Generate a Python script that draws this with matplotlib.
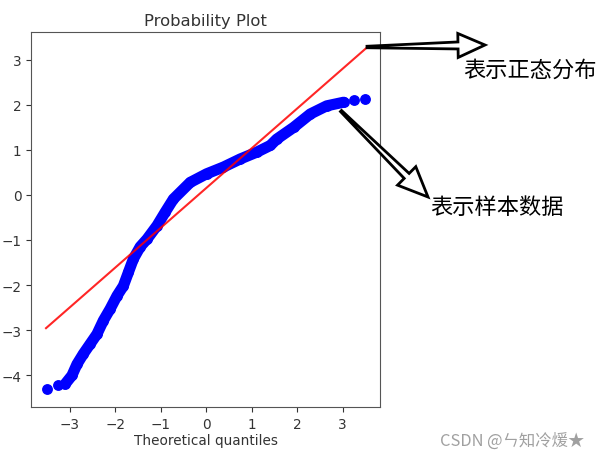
import matplotlib
matplotlib.use("Agg")
import matplotlib.pyplot as plt
from matplotlib.patches import Polygon
import numpy as np

# Data --------------------------------------------------------------------
# theoretical quantiles (x) and ordered sample values (y)
osm = [-3.49, -3.25, -3.10, -2.95, -2.84, -2.70, -2.55, -2.40, -2.26, -2.11,
       -1.96, -1.82, -1.71, -1.60, -1.45, -1.30, -1.08, -0.90, -0.72, -0.35,
       0.01, 0.38, 0.75, 1.11, 1.41, 1.55, 1.92, 2.29, 2.65, 3.02, 3.24, 3.49]
osr = [-4.31, -4.22, -4.20, -4.01, -3.76, -3.53, -3.31, -3.09, -2.79, -2.53,
       -2.24, -2.02, -1.72, -1.42, -1.15, -0.98, -0.68, -0.38, -0.09, 0.28,
       0.47, 0.62, 0.80, 0.95, 1.10, 1.24, 1.50, 1.80, 1.98, 2.06, 2.11, 2.13]
# least squares fit line (normal reference)
fit_slope = 0.884
fit_intercept = 0.153
line_x = [-3.52, 3.52]

x_ticks = [-3, -2, -1, 0, 1, 2, 3]
y_ticks = [-4, -3, -2, -1, 0, 1, 2, 3]

label_normal = "表示正态分布"
label_sample = "表示样本数据"
watermark = "CSDN @ㄣ知冷煖★"


def hollow_arrow(fig, tail, tip, head_len=27, head_w=24, shaft_w=7, tail_w=1.5):
    # outline arrow like the one drawn by hand, coordinates in figure pixels
    tail = np.array(tail, float)
    tip = np.array(tip, float)
    d = tip - tail
    d /= np.hypot(*d)
    n = np.array([-d[1], d[0]])
    base = tip - d * head_len
    pts = [tail + n * tail_w / 2, base + n * shaft_w / 2, base + n * head_w / 2,
           tip, base - n * head_w / 2, base - n * shaft_w / 2, tail - n * tail_w / 2]
    pts = [(p[0] / fig.bbox.width, p[1] / fig.bbox.height) for p in pts]
    fig.patches.append(Polygon(pts, closed=True, fc="white", ec="black", lw=2,
                               joinstyle="miter", transform=fig.transFigure,
                               figure=fig))


# Plot -------------------------------------------------------------------
fig = plt.figure(figsize=(6.01, 4.60), dpi=100)
ax = fig.add_axes([31 / 601, 1 - 408 / 460, 349 / 601, 375 / 460])

osm = np.array(osm)
osr = np.array(osr)
ax.plot(osm[2:-2], osr[2:-2], color="blue", lw=8, solid_capstyle="round")
ax.plot(osm, osr, "o", color="blue", markersize=6.8)
lx = np.array(line_x)
ax.plot(lx, fit_slope * lx + fit_intercept, color="red", lw=1.5, alpha=0.85)

ax.set_xlim(-3.85, 3.82)
ax.set_ylim(-4.71, 3.62)
ax.set_xticks(x_ticks)
ax.set_yticks(y_ticks)
ax.tick_params(labelsize=9.8, length=3.5, colors="#333333")
for s in ax.spines.values():
    s.set_color("#555555")
ax.set_xlabel("Theoretical quantiles", fontsize=9.8, labelpad=2, color="#333333")
ax.set_title("Probability Plot", fontsize=11.8, pad=5, color="#333333")

# Annotations ------------------------------------------------------------
cjk = ["Noto Sans CJK SC", "DejaVu Sans"]
H = 460
hollow_arrow(fig, (367, H - 48), (485, H - 46))
hollow_arrow(fig, (341, H - 112), (428, H - 198), head_len=30, head_w=26)

fig.text(463 / 601, 1 - 70 / H, label_normal, family=cjk, fontsize=16,
         va="center", ha="left")
fig.text(430 / 601, 1 - 208 / H, label_sample, family=cjk, fontsize=16,
         va="center", ha="left")
fig.text(440 / 601, 1 - 441 / H, watermark, family=cjk, fontsize=11.8,
         color="#a0a0a0", va="center", ha="left")

fig.savefig("out.png", dpi=100)
